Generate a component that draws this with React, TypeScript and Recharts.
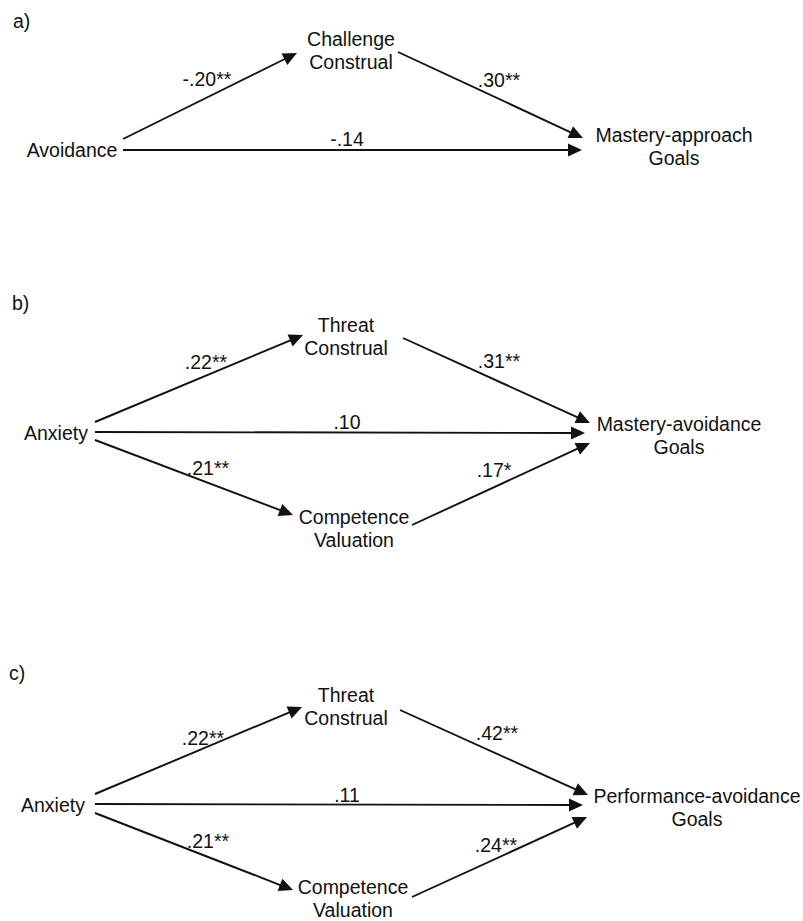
import { ScatterChart, Scatter, XAxis, YAxis, ReferenceLine } from 'recharts'

// Diagram space matches the 803 x 921 figure, y grows downward
const WIDTH = 803
const HEIGHT = 921

const panelLetters = [
  { text: 'a)', x: 13, y: 21 },
  { text: 'b)', x: 12, y: 303 },
  { text: 'c)', x: 9, y: 673 },
]

const nodes = [
  // panel a
  { lines: ['Avoidance'], x: 72, y: 150 },
  { lines: ['Challenge', 'Construal'], x: 351, y: 51 },
  { lines: ['Mastery-approach', 'Goals'], x: 674, y: 147 },
  // panel b
  { lines: ['Anxiety'], x: 56, y: 433 },
  { lines: ['Threat', 'Construal'], x: 346, y: 337 },
  { lines: ['Competence', 'Valuation'], x: 354, y: 529 },
  { lines: ['Mastery-avoidance', 'Goals'], x: 679, y: 436 },
  // panel c
  { lines: ['Anxiety'], x: 53, y: 805 },
  { lines: ['Threat', 'Construal'], x: 346, y: 707 },
  { lines: ['Competence', 'Valuation'], x: 353, y: 899 },
  { lines: ['Performance-avoidance', 'Goals'], x: 697, y: 808 },
]

// each path: start and arrow tip
const paths = [
  { x1: 123, y1: 139, x2: 297, y2: 53 },
  { x1: 398, y1: 52, x2: 583, y2: 138 },
  { x1: 123, y1: 150, x2: 582, y2: 150 },

  { x1: 95, y1: 422, x2: 303, y2: 335 },
  { x1: 403, y1: 338, x2: 590, y2: 423 },
  { x1: 95, y1: 432, x2: 585, y2: 433 },
  { x1: 95, y1: 440, x2: 293, y2: 515 },
  { x1: 412, y1: 525, x2: 590, y2: 443 },

  { x1: 95, y1: 794, x2: 302, y2: 707 },
  { x1: 400, y1: 710, x2: 588, y2: 795 },
  { x1: 95, y1: 804, x2: 583, y2: 805 },
  { x1: 95, y1: 813, x2: 293, y2: 890 },
  { x1: 412, y1: 897, x2: 587, y2: 817 },
]

const coefficients = [
  { text: '-.20**', x: 207, y: 79 },
  { text: '.30**', x: 499, y: 80 },
  { text: '-.14', x: 347, y: 139 },

  { text: '.22**', x: 206, y: 362 },
  { text: '.31**', x: 499, y: 361 },
  { text: '.10', x: 347, y: 422 },
  { text: '.21**', x: 208, y: 468 },
  { text: '.17*', x: 494, y: 470 },

  { text: '.22**', x: 203, y: 738 },
  { text: '.42**', x: 497, y: 733 },
  { text: '.11', x: 347, y: 795 },
  { text: '.21**', x: 208, y: 841 },
  { text: '.24**', x: 496, y: 845 },
]

const FONT = '"Liberation Sans", Arial, Helvetica, sans-serif'
const INK = '#111'
const FONT_SIZE = 19.5
const LINE_GAP = 23

const Arrow = (props: any) => {
  const { x1, y1, x2, y2 } = props
  const dx = x2 - x1
  const dy = y2 - y1
  const len = Math.hypot(dx, dy) || 1
  const ux = dx / len
  const uy = dy / len
  const head = 14
  const half = 6.5
  const bx = x2 - ux * head
  const by = y2 - uy * head
  const pts = `${x2},${y2} ${bx - uy * half},${by + ux * half} ${bx + uy * half},${by - ux * half}`
  return (
    <g>
      <line x1={x1} y1={y1} x2={bx + ux} y2={by + uy} stroke={INK} strokeWidth={1.9} />
      <polygon points={pts} fill={INK} />
    </g>
  )
}

const NodeText = (props: any) => {
  const { cx, cy, payload } = props
  const lines: string[] = payload.lines
  const top = cy - ((lines.length - 1) * LINE_GAP) / 2
  return (
    <text textAnchor="middle" fontFamily={FONT} fontSize={FONT_SIZE} fill={INK}>
      {lines.map((l, i) => (
        <tspan key={i} x={cx} y={top + i * LINE_GAP} dy="0.35em">
          {l}
        </tspan>
      ))}
    </text>
  )
}

const CoefText = (props: any) => {
  const { cx, cy, payload } = props
  return (
    <text x={cx} y={cy} dy="0.35em" textAnchor="middle" fontFamily={FONT} fontSize={FONT_SIZE} fill={INK}>
      {payload.text}
    </text>
  )
}

const LetterText = (props: any) => {
  const { cx, cy, payload } = props
  return (
    <text x={cx} y={cy} dy="0.35em" textAnchor="start" fontFamily={FONT} fontSize={FONT_SIZE} fill={INK}>
      {payload.text}
    </text>
  )
}

export default function App() {
  return (
    <div style={{ position: 'absolute', left: 0, top: 0, background: '#fff' }}>
      <ScatterChart width={WIDTH} height={HEIGHT} margin={{ top: 0, right: 0, bottom: 0, left: 0 }}>
        <XAxis type="number" dataKey="x" domain={[0, WIDTH]} hide />
        <YAxis type="number" dataKey="y" domain={[0, HEIGHT]} reversed hide />
        {paths.map((p, i) => (
          <ReferenceLine
            key={`path-${i}`}
            segment={[
              { x: p.x1, y: p.y1 },
              { x: p.x2, y: p.y2 },
            ]}
            shape={Arrow}
            ifOverflow="visible"
          />
        ))}
        <Scatter data={nodes} shape={NodeText} isAnimationActive={false} />
        <Scatter data={coefficients} shape={CoefText} isAnimationActive={false} />
        <Scatter data={panelLetters} shape={LetterText} isAnimationActive={false} />
      </ScatterChart>
    </div>
  )
}
